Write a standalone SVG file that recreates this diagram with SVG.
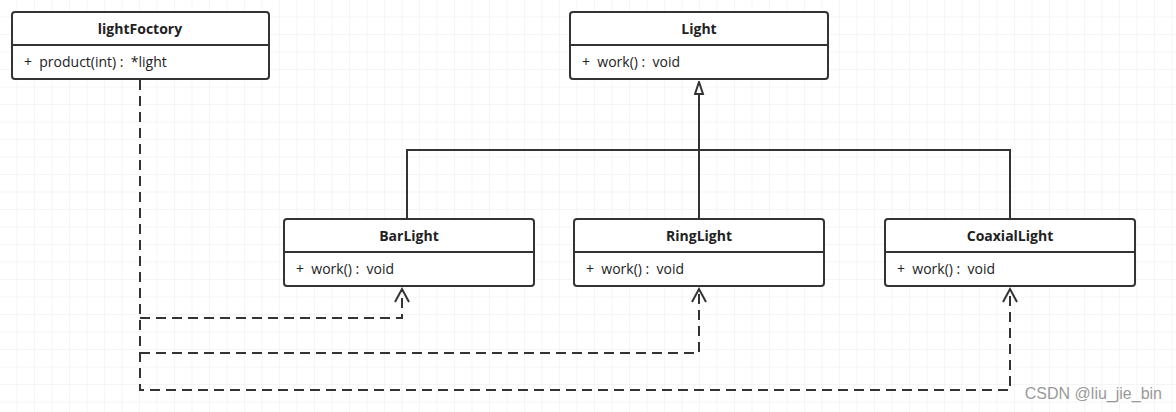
<svg xmlns="http://www.w3.org/2000/svg" width="1176" height="412" viewBox="0 0 1176 412">
<defs>
<pattern id="g" width="17.5" height="17.5" patternUnits="userSpaceOnUse"><path d="M17.5 0V17.5H0" fill="none" stroke="#ebebeb" stroke-width="1"/></pattern>
<marker id="open" markerWidth="18" markerHeight="16" refX="14" refY="8" orient="auto" markerUnits="userSpaceOnUse"><path d="M1 1L14 8L1 15" fill="none" stroke="#333" stroke-width="2"/></marker>
<marker id="tri" markerWidth="14" markerHeight="12" refX="13" refY="5" orient="auto" markerUnits="userSpaceOnUse"><path d="M1 1L13 5L1 9Z" fill="#fff" stroke="#333" stroke-width="2"/></marker>
</defs>
<style>
.b{fill:#fff;stroke:#333;stroke-width:2}
.d{stroke:#333;stroke-width:2}
.t{font-family:"Open Sans","Liberation Sans",sans-serif;font-size:14px;fill:#222;white-space:pre}
.h{font-weight:bold;text-anchor:middle}
.c{fill:none;stroke:#333;stroke-width:2}
.dash{stroke-dasharray:10 6}
</style>
<rect width="1176" height="412" fill="#fff"/>
<rect width="1176" height="412" fill="url(#g)"/>
<g id="connectors">
<path class="c" d="M699 219V150M407 219V150H1010V219M699 150V82" marker-end="url(#tri)"/>
<path class="c dash" d="M140 80V390H1010V289" marker-end="url(#open)"/>
<path class="c dash" d="M140 318H402V289" marker-end="url(#open)"/>
<path class="c dash" d="M140 353H699V289" marker-end="url(#open)"/>
</g>
<g id="lightFoctory"><rect class="b" x="12" y="12" width="257" height="67" rx="3"/><line class="d" x1="12" y1="45" x2="269" y2="45"/><text class="t h" x="140" y="34">lightFoctory</text><text class="t" x="24" y="67" xml:space="preserve">+  product(int) :  *light</text></g>
<g id="Light"><rect class="b" x="570" y="12" width="258" height="67" rx="3"/><line class="d" x1="570" y1="45" x2="828" y2="45"/><text class="t h" x="699" y="34">Light</text><text class="t" x="582" y="67" xml:space="preserve">+  work() :  void</text></g>
<g id="BarLight"><rect class="b" x="284" y="219" width="250" height="67" rx="3"/><line class="d" x1="284" y1="252" x2="534" y2="252"/><text class="t h" x="409" y="241">BarLight</text><text class="t" x="296" y="274" xml:space="preserve">+  work() :  void</text></g>
<g id="RingLight"><rect class="b" x="574" y="219" width="250" height="67" rx="3"/><line class="d" x1="574" y1="252" x2="824" y2="252"/><text class="t h" x="699" y="241">RingLight</text><text class="t" x="586" y="274" xml:space="preserve">+  work() :  void</text></g>
<g id="CoaxialLight"><rect class="b" x="885" y="219" width="250" height="67" rx="3"/><line class="d" x1="885" y1="252" x2="1135" y2="252"/><text class="t h" x="1010" y="241">CoaxialLight</text><text class="t" x="897" y="274" xml:space="preserve">+  work() :  void</text></g>
<text x="1162" y="399" text-anchor="end" style="font-family:'Liberation Sans',sans-serif;font-size:16px;fill:#999">CSDN @liu_jie_bin</text>
</svg>
